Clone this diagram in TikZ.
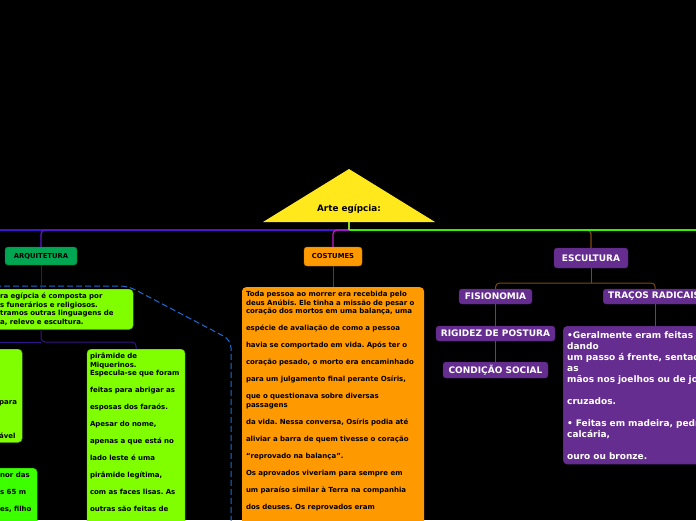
\documentclass[tikz,border=0pt]{standalone}
\usepackage{fontspec}
\setmainfont{DejaVu Sans}
\usepackage{tikz}
\usetikzlibrary{positioning,calc}
\frenchspacing
\definecolor{amarelo}{HTML}{FFE81C}
\definecolor{azulfio}{HTML}{3D14D2}
\definecolor{verdefio}{HTML}{35F000}
\definecolor{verdetopo}{HTML}{8CD22A}
\definecolor{magentafio}{HTML}{C61CC6}
\definecolor{roxofio}{HTML}{6A1E9C}
\definecolor{anilfio}{HTML}{33138A}
\definecolor{marromfio}{HTML}{7A4A12}
\definecolor{azulborda}{HTML}{1E6DD2}
\definecolor{verdearq}{HTML}{00A651}
\definecolor{laranja}{HTML}{FF9900}
\definecolor{lima}{HTML}{80FF00}
\definecolor{verdevivo}{HTML}{3CFF00}
\definecolor{roxo}{HTML}{662D91}

\begin{document}
\begin{tikzpicture}[
        x=1pt, y=-1pt,
        every node/.style={font=\bfseries},
        topico/.style={draw=#1!75!black, fill=#1, rounded corners=3pt, inner sep=0pt,
                       font=\fontsize{6.8}{8}\selectfont\bfseries},
        ramo/.style={draw=roxo!80!black, fill=roxo, text=white, rounded corners=3pt, inner sep=0pt,
                     font=\fontsize{9}{10}\selectfont\bfseries},
        nota/.style={fill=#1, draw=#1!70!black, rounded corners=4pt, align=left,
                     inner xsep=4pt, inner ysep=4pt, font=\fontsize{7}{8.5}\selectfont\bfseries},
        fio/.style={line width=1.3pt, rounded corners=4pt},
        subfio/.style={line width=1pt, rounded corners=4pt},
    ]
        % --- page, black ---
        \useasboundingbox (0,0) rectangle (696,520);
        \fill[black] (0,0) rectangle (696,520);
        \clip (0,0) rectangle (696,520);

        % --- central topic ---
        \fill[amarelo] (263,222) -- (349,169) -- (435,222) -- cycle;
        \node[font=\fontsize{8.8}{10}\selectfont\bfseries] (titulo) at (349,209) {Arte egípcia:};
        \coordinate (base) at (349,222);
        \coordinate (hub)  at (349,230);
        \coordinate (esq)  at (-5,230);
        \coordinate (dir)  at (701,230);

        % --- main topics ---
        \node[topico=verdearq, minimum width=72pt, minimum height=18pt] (arq)  at (41,256)    {ARQUITETURA};
        \node[topico=laranja,  minimum width=58pt, minimum height=19pt] (cost) at (333,256.5) {COSTUMES};
        \node[ramo, minimum width=74pt, minimum height=20pt]             (esc)  at (591,258)   {ESCULTURA};

        % --- main lines ---
        \draw[fio, draw=marromfio] (hub) -| (esc.north);
        \draw[fio, draw=verdefio] (hub) -- (dir);
        \draw[fio, draw=azulfio] (hub) -- (esq);
        \draw[fio, draw=azulfio!80!magentafio] (hub) -| (arq.north);
        \draw[fio, draw=magentafio] (hub) -| (cost.north);
        \draw[line width=1.8pt, draw=verdetopo] (base) -- (hub);

        % --- arquitetura: dashed boundary ---
        \draw[azulborda, line width=1pt, dash pattern=on 6pt off 3pt, rounded corners=8pt]
            (-5,286) -- (128,286) -- (231,340) -- (231,530);

        % --- arquitetura: notes ---
        \node[nota=lima, anchor=north west, text width=129pt] (arqtexto) at (-4,289)
            {ra egípcia é composta por\\
             s funerários e religiosos.\\
             tramos outras linguagens de\\
             a, relevo e escultura.};
        \node[nota=lima, anchor=north west, text width=19pt] (ladoesq) at (-5,349)
            {\mbox{}\\[8.5pt]\mbox{}\\[8.5pt]\mbox{}\\[8.5pt]para\\[8.5pt]\mbox{}\\[8.5pt]ável};
        \node[nota=verdevivo, anchor=north west, text width=33pt] (ladobaixo) at (-4,468)
            {nor das\\[8.5pt]s 65 m\\[8.5pt]es, filho\\[8.5pt]\mbox{}};
        \node[nota=lima, anchor=north, inner xsep=3pt, text width=92pt] (piramide) at (136,349)
            {pirâmide de\\
             Miquerinos.\\
             Especula-se que foram\\[8.5pt]
             feitas para abrigar as\\[8.5pt]
             esposas dos faraós.\\[8.5pt]
             Apesar do nome,\\[8.5pt]
             apenas a que está no\\[8.5pt]
             lado leste é uma\\[8.5pt]
             pirâmide legítima,\\[8.5pt]
             com as faces lisas. As\\[8.5pt]
             outras são feitas de\\[8.5pt]
             \mbox{}};

        \coordinate (ramo1)     at (41,342);
        \coordinate (ramo1-esq) at (-20,342);
        \draw[subfio, draw=anilfio] (arq.south) -- (arq.south |- arqtexto.north);
        \draw[subfio, draw=anilfio] (arq.south |- arqtexto.south) -- (ramo1) -| (piramide.north);
        \draw[subfio, draw=anilfio] (ramo1) -- (ramo1-esq);

        % --- costumes ---
        \node[nota=laranja, draw=none, anchor=north, text width=174pt] (costtexto) at (333,287)
            {Toda pessoa ao morrer era recebida pelo\\
             deus Anúbis. Ele tinha a missão de pesar o\\
             coração dos mortos em uma balança, uma\\[8.5pt]
             espécie de avaliação de como a pessoa\\[8.5pt]
             havia se comportado em vida. Após ter o\\[8.5pt]
             coração pesado, o morto era encaminhado\\[8.5pt]
             para um julgamento final perante Osíris,\\[8.5pt]
             que o questionava sobre diversas\\
             passagens\\[8.5pt]
             da vida. Nessa conversa, Osíris podia até\\[8.5pt]
             aliviar a barra de quem tivesse o coração\\[8.5pt]
             “reprovado na balança”.\\[8.5pt]
             Os aprovados viveriam para sempre em\\[8.5pt]
             um paraíso similar à Terra na companhia\\[8.5pt]
             dos deuses. Os reprovados eram\\[8.5pt]
             \mbox{}};
        \draw[subfio, draw=roxofio] (cost.south) -- (cost.south |- costtexto.north);

        % --- escultura ---
        \node[ramo, minimum width=73pt, minimum height=15pt] (fis) at (495.5,296.5) {FISIONOMIA};
        \node[ramo, anchor=west, text width=94pt, align=left, inner xsep=5pt, minimum height=15pt]
            (tracos) at (603,296.5) {TRAÇOS RADICAIS};
        \node[ramo, minimum width=119pt, minimum height=15pt] (rig)  at (495.5,333.5) {RIGIDEZ DE POSTURA};
        \node[ramo, minimum width=105pt, minimum height=16pt] (cond) at (495.5,370)   {CONDIÇÃO SOCIAL};
        \node[ramo, anchor=north west, text width=192pt, align=left, inner xsep=4pt, inner ysep=5pt,
              rounded corners=4pt, font=\fontsize{9}{11}\selectfont\bfseries] (tracotexto) at (563,326)
            {•Geralmente eram feitas\\
             dando\\
             um passo á frente, sentadas\\
             as\\
             mãos nos joelhos ou de joelhos\\[11pt]
             cruzados.\\[11pt]
             • Feitas em madeira, pedra\\
             calcária,\\[11pt]
             ouro ou bronze.};

        \coordinate (ramo2) at (591,283);
        \draw[subfio, draw=marromfio] (esc.south) -- (ramo2);
        \draw[subfio, draw=marromfio] (ramo2) -| (fis.north);
        \draw[subfio, draw=marromfio] (ramo2) -| (tracos.north);
        \draw[subfio, draw=marromfio] (fis.south) -- (rig.north);
        \draw[subfio, draw=marromfio] (rig.south) -- (cond.north);
        \draw[subfio, draw=marromfio] (tracos.south) -- (tracos.south |- tracotexto.north);

    \end{tikzpicture}
\end{document}
